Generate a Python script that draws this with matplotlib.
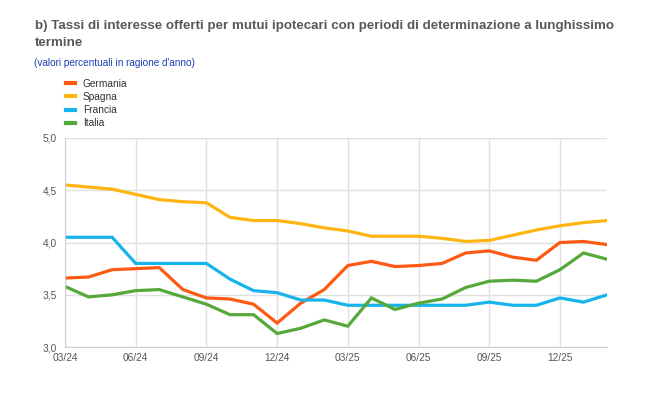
import numpy as np
import matplotlib.pyplot as plt

plt.rcParams['font.family'] = ['Liberation Sans', 'DejaVu Sans']

# monthly data, 03/24 .. 02/26
months = ['03/24', '04/24', '05/24', '06/24', '07/24', '08/24', '09/24', '10/24',
          '11/24', '12/24', '01/25', '02/25', '03/25', '04/25', '05/25', '06/25',
          '07/25', '08/25', '09/25', '10/25', '11/25', '12/25', '01/26', '02/26']

germania = [3.66, 3.67, 3.74, 3.75, 3.76, 3.55, 3.47, 3.46, 3.41, 3.23, 3.42, 3.55,
            3.78, 3.82, 3.77, 3.78, 3.80, 3.90, 3.92, 3.86, 3.83, 4.00, 4.01, 3.98]
spagna = [4.55, 4.53, 4.51, 4.46, 4.41, 4.39, 4.38, 4.24, 4.21, 4.21, 4.18, 4.14,
          4.11, 4.06, 4.06, 4.06, 4.04, 4.01, 4.02, 4.07, 4.12, 4.16, 4.19, 4.21]
francia = [4.05, 4.05, 4.05, 3.80, 3.80, 3.80, 3.80, 3.65, 3.54, 3.52, 3.45, 3.45,
           3.40, 3.40, 3.40, 3.40, 3.40, 3.40, 3.43, 3.40, 3.40, 3.47, 3.43, 3.50]
italia = [3.58, 3.48, 3.50, 3.54, 3.55, 3.48, 3.41, 3.31, 3.31, 3.13, 3.18, 3.26,
          3.20, 3.47, 3.36, 3.42, 3.46, 3.57, 3.63, 3.64, 3.63, 3.74, 3.90, 3.84]

series = [('Germania', germania, '#ff5a14'),
          ('Spagna', spagna, '#ffb511'),
          ('Francia', francia, '#16b4ea'),
          ('Italia', italia, '#54a93a')]

x = np.arange(len(months))

fig = plt.figure(figsize=(6.5, 3.94), dpi=100)
ax = fig.add_axes([0.1, 0.119, 0.834, 0.531])

lines = []
for name, vals, col in series:
    l, = ax.plot(x, vals, color=col, lw=2.3, solid_joinstyle='miter', label=name)
    lines.append(l)

ax.set_xlim(0, len(months) - 1)
ax.set_ylim(3.0, 5.0)
ax.set_xticks(x[::3])
ax.set_xticklabels(months[::3])
ax.set_yticks([3.0, 3.5, 4.0, 4.5, 5.0])
ax.set_yticklabels(['3,0', '3,5', '4,0', '4,5', '5,0'])
ax.tick_params(length=0, labelsize=7.3, colors='#555555')
ax.tick_params(axis='y', pad=6)
ax.tick_params(axis='x', pad=4)
ax.grid(True, color='#e0e0e0', lw=1)
ax.set_axisbelow(True)
for s in ['top', 'right']:
    ax.spines[s].set_visible(False)
for s in ['left', 'bottom']:
    ax.spines[s].set_color('#d0d0d0')

title_kw = dict(fontsize=9.6, fontweight='bold', color='#595959', va='center')
fig.text(0.054, 1 - 26 / 394, 'b) Tassi di interesse offerti per mutui ipotecari con periodi di determinazione a lunghissimo', **title_kw)
fig.text(0.054, 1 - 43 / 394, 'termine', **title_kw)
fig.text(0.053, 1 - 63 / 394, "(valori percentuali in ragione d'anno)", fontsize=7.2, color='#1a3fb0', va='center')

fig.legend(handles=lines, loc='upper left', bbox_to_anchor=(0.101, 1 - 79 / 394), frameon=False,
           fontsize=7.3, handlelength=0.9, handletextpad=0.8, labelspacing=0.3,
           borderaxespad=0, borderpad=0)
for t in fig.legends[0].get_texts():
    t.set_color('#333333')
for h in fig.legends[0].legend_handles:
    h.set_linewidth(3)

fig.savefig('out.png', dpi=100)
